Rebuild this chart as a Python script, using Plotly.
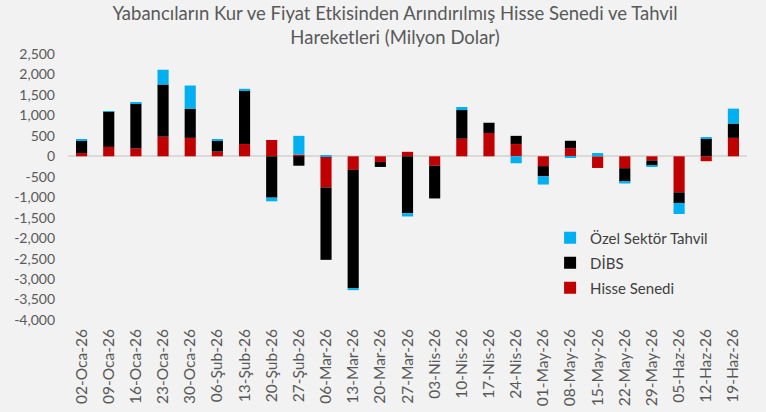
import plotly.graph_objects as go

dates = ["02-Oca-26", "09-Oca-26", "16-Oca-26", "23-Oca-26", "30-Oca-26", "06-Şub-26", "13-Şub-26",
         "20-Şub-26", "27-Şub-26", "06-Mar-26", "13-Mar-26", "20-Mar-26", "27-Mar-26", "03-Nis-26",
         "10-Nis-26", "17-Nis-26", "24-Nis-26", "01-May-26", "08-May-26", "15-May-26", "22-May-26",
         "29-May-26", "05-Haz-26", "12-Haz-26", "19-Haz-26"]
hisse = [80, 230, 190, 480, 450, 115, 300, 400, 40, -760, -330, -140, 110, -230,
         430, 570, 300, -240, 200, -285, -290, -100, -880, -120, 450]
dibs = [305, 860, 1100, 1275, 715, 270, 1320, -1010, -230, -1770, -2890, -120, -1390, -800,
        700, 250, 200, -250, 180, 0, -330, -130, -260, 430, 350]
ozel = [25, 10, 25, 360, 565, 25, 30, -90, 460, 30, -50, 0, -80, 0,
        75, 0, -170, -200, -40, 80, -45, -30, -270, 25, 365]

yvals = [2500, 2000, 1500, 1000, 500, 0, -500, -1000, -1500, -2000, -2500, -3000, -3500, -4000]
ytext = ["2,500", "2,000", "1,500", "1,000", "500", "0", "-500", "-1,000", "-1,500", "-2,000",
         "-2,500", "-3,000", "-3,500", "-4,000"]

font = "Lato, 'Open Sans', sans-serif"
fig = go.Figure()
for name, vals, col, grp, rank in [("Hisse Senedi", hisse, "#C00000", "a", 3),
                                   ("DİBS", dibs, "#000000", "b", 2),
                                   ("Özel Sektör Tahvil", ozel, "#00B0F0", "c", 1)]:
    fig.add_trace(go.Bar(x=dates, y=vals, name=name, marker=dict(color=col, line=dict(width=0)),
                         legendgroup=grp, legendrank=rank))

fig.update_layout(
    width=766, height=412,
    paper_bgcolor="#F2F2F2", plot_bgcolor="#F2F2F2",
    barmode="relative", bargap=0.59,
    margin=dict(l=68, r=19, t=53.5, b=92),
    title=dict(text="Yabancıların Kur ve Fiyat Etkisinden Arındırılmış Hisse Senedi ve Tahvil<br>Hareketleri (Milyon Dolar)",
               x=0.5157, xref="container", xanchor="center", y=0.951, yanchor="top",
               font=dict(family=font, size=18.5, color="#595959")),
    font=dict(family=font, color="#595959"),
    xaxis=dict(tickangle=-90, tickfont=dict(size=15.5, color="#595959"), showgrid=False,
               showline=False, ticks="", automargin=False, ticklabelstandoff=5),
    yaxis=dict(range=[-4000, 2500], tickvals=yvals, ticktext=ytext, showgrid=False,
               zeroline=True, zerolinecolor="#D9D9D9", zerolinewidth=1.5,
               tickfont=dict(size=14, color="#595959"), ticks="", automargin=False,
               ticklabelstandoff=12),
    legend=dict(x=0.71, y=0.37, xanchor="left", yanchor="top", traceorder="grouped",
                tracegroupgap=2.5, font=dict(size=15, color="#404040"), bgcolor="rgba(0,0,0,0)"),
    showlegend=True,
)
fig.write_html("out.html", config={"displayModeBar": False},
               post_script="document.body.style.margin='0';")
